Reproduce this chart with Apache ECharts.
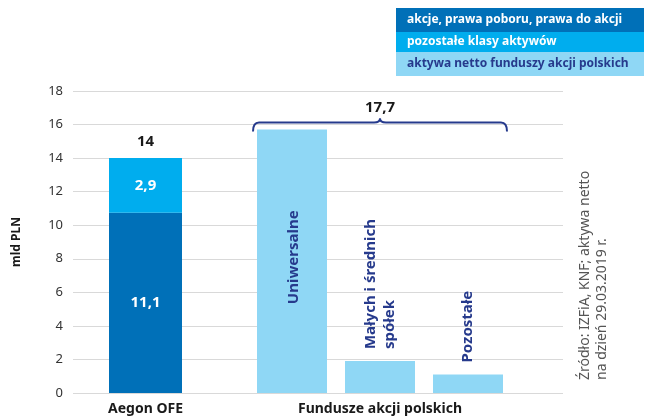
<!DOCTYPE html>
<html><head><meta charset="utf-8">
<script src="https://cdn.jsdelivr.net/npm/echarts@6/dist/echarts.min.js"></script>
<style>html,body{margin:0;padding:0;background:#fff}#c{width:649px;height:420px}</style>
</head><body><div id="c"></div>
<script>
// ---- data ----
const groupNames = ['Aegon OFE', 'Fundusze akcji polskich'];
const seriesNames = ['akcje, prawa poboru, prawa do akcji', 'pozostałe klasy aktywów', 'aktywa netto funduszy akcji polskich'];
const aegonShares = [10.75];
const aegonOther = [3.25];
const aegonShareLabels = ['11,1'];
const aegonOtherLabels = ['2,9'];
const aegonTotalLabel = '14';
const fundCategories = ['Uniwersalne', 'Małych i średnich\nspółek', 'Pozostałe'];
const fundValues = [15.7, 1.9, 1.1];
const fundTotalLabel = '17,7';
const yMin = 0, yMax = 18, yStep = 2;
const yName = 'mld PLN';
const sourceLines = ['Źródło: IZFiA, KNF; aktywa netto', 'na dzień 29.03.2019 r.'];

const colors = ['#0070b8', '#00adee', '#8fd7f5'];
const navy = '#263a8c';
const FONT = 'Noto Sans';

const chart = echarts.init(document.getElementById('c'), null, {renderer: 'canvas'});
const hiddenY = (gi) => ({type: 'value', gridIndex: gi, min: yMin, max: yMax, interval: yStep, show: false});
const option = {
  animation: false,
  textStyle: {fontFamily: FONT},
  grid: [
    {left: 73, right: 86, top: 91, bottom: 27, outerBoundsMode: 'none', containLabel: false},
    {left: 73, width: 145, top: 91, bottom: 27, outerBoundsMode: 'none', containLabel: false},
    {left: 248, width: 264, top: 91, bottom: 27, outerBoundsMode: 'none', containLabel: false}
  ],
  xAxis: [
    {type: 'category', gridIndex: 0, data: [''], show: false},
    {type: 'category', gridIndex: 1, data: [groupNames[0]], axisLine: {show: false}, axisTick: {show: false},
      axisLabel: {margin: 9, fontSize: 14, fontWeight: 'bold', color: '#1a1a1a', fontFamily: FONT}},
    {type: 'category', gridIndex: 2, data: fundCategories, axisLine: {show: false}, axisTick: {show: false},
      axisLabel: {show: false}, name: groupNames[1], nameLocation: 'middle', nameGap: 9,
      nameTextStyle: {fontSize: 14, fontWeight: 'bold', color: '#1a1a1a', fontFamily: FONT}}
  ],
  yAxis: [
    {type: 'value', gridIndex: 0, min: yMin, max: yMax, interval: yStep,
      axisLine: {show: false}, axisTick: {show: false},
      axisLabel: {fontSize: 13, color: '#333', margin: 10, fontFamily: FONT},
      splitLine: {lineStyle: {color: '#d9d9d9', width: 1}},
      name: yName, nameLocation: 'middle', nameGap: 50,
      nameTextStyle: {fontSize: 12, fontWeight: 'bold', color: '#1a1a1a', fontFamily: FONT}},
    hiddenY(1), hiddenY(2)
  ],
  series: [
    {name: seriesNames[0], type: 'bar', xAxisIndex: 1, yAxisIndex: 1, stack: 'a', barWidth: 73,
      itemStyle: {color: colors[0]}, data: aegonShares,
      label: {show: true, position: 'inside', color: '#fff', fontSize: 15, fontWeight: 'bold',
        formatter: p => aegonShareLabels[p.dataIndex]}},
    {name: seriesNames[1], type: 'bar', xAxisIndex: 1, yAxisIndex: 1, stack: 'a', barWidth: 73,
      itemStyle: {color: colors[1]}, data: aegonOther,
      label: {show: true, position: 'inside', color: '#fff', fontSize: 15, fontWeight: 'bold',
        formatter: p => aegonOtherLabels[p.dataIndex]}},
    {name: 'total', type: 'bar', xAxisIndex: 1, yAxisIndex: 1, stack: 'a', barWidth: 73,
      itemStyle: {color: 'transparent'}, data: [0],
      label: {show: true, position: 'top', distance: 9, color: '#1a1a1a', fontSize: 15, fontWeight: 'bold',
        formatter: () => aegonTotalLabel}},
    {name: seriesNames[2], type: 'bar', xAxisIndex: 2, yAxisIndex: 2, barWidth: 70,
      itemStyle: {color: colors[2]},
      data: fundValues.map((v, i) => ({value: v, label: i === 0
        ? {position: 'inside', rotate: 90, offset: [4, 2]}
        : {position: 'top', distance: 12, rotate: 90, align: 'left', verticalAlign: 'middle'}})),
      label: {show: true, color: navy, fontSize: 15, fontWeight: 'bold', lineHeight: 19,
        formatter: p => fundCategories[p.dataIndex]}}
  ]
};
chart.setOption(option);

// annotations computed from axes
const firstCenter = chart.convertToPixel({xAxisIndex: 2, yAxisIndex: 2}, [0, fundValues[0]]);
const lastCenter = chart.convertToPixel({xAxisIndex: 2, yAxisIndex: 2}, [fundCategories.length - 1, 0]);
const half = 35 + 4;
const xl = firstCenter[0] - half, xr = lastCenter[0] + half, xm = (xl + xr) / 2;
const yb = firstCenter[1] + 2, yl = firstCenter[1] - 7, yp = yl - 4;
const bstyle = {fill: 'none', stroke: navy, lineWidth: 2};
const bracketEls = [
  {type: 'bezierCurve', shape: {x1: xl, y1: yb, cpx1: xl, cpy1: yl, x2: xl + 6, y2: yl}, style: bstyle},
  {type: 'line', shape: {x1: xl + 6, y1: yl, x2: xm - 6, y2: yl}, style: bstyle},
  {type: 'bezierCurve', shape: {x1: xm - 6, y1: yl, cpx1: xm, cpy1: yl, x2: xm, y2: yp}, style: bstyle},
  {type: 'bezierCurve', shape: {x1: xm, y1: yp, cpx1: xm, cpy1: yl, x2: xm + 6, y2: yl}, style: bstyle},
  {type: 'line', shape: {x1: xm + 6, y1: yl, x2: xr - 6, y2: yl}, style: bstyle},
  {type: 'bezierCurve', shape: {x1: xr - 6, y1: yl, cpx1: xr, cpy1: yl, x2: xr, y2: yb}, style: bstyle}
];

const legendRows = [[8, 24], [32, 20], [52, 24]];
const legendEls = seriesNames.map((n, i) => ({
  type: 'group', x: 396, y: legendRows[i][0],
  children: [
    {type: 'rect', shape: {x: 0, y: 0, width: 248, height: legendRows[i][1]}, style: {fill: colors[i]}},
    {type: 'text', x: 11, y: legendRows[i][1] / 2, style: {text: n, fill: i < 2 ? '#fff' : navy, fontSize: 12,
      fontWeight: 'bold', fontFamily: FONT, verticalAlign: 'middle', align: 'left'}}
  ]
}));

chart.setOption({
  graphic: [
    ...bracketEls,
    {type: 'text', x: xm, y: yp - 11, style: {text: fundTotalLabel, fontSize: 15, fontWeight: 'bold', fill: '#1a1a1a',
      fontFamily: FONT, align: 'center', verticalAlign: 'middle'}},
    ...legendEls,
    ...sourceLines.map((t, i) => ({type: 'text', x: 585 + i * 17, y: 380, rotation: Math.PI / 2,
      style: {text: t, fontSize: 14, fill: '#555', fontFamily: FONT, align: 'left', verticalAlign: 'middle'}}))
  ]
});
</script>
</body></html>
